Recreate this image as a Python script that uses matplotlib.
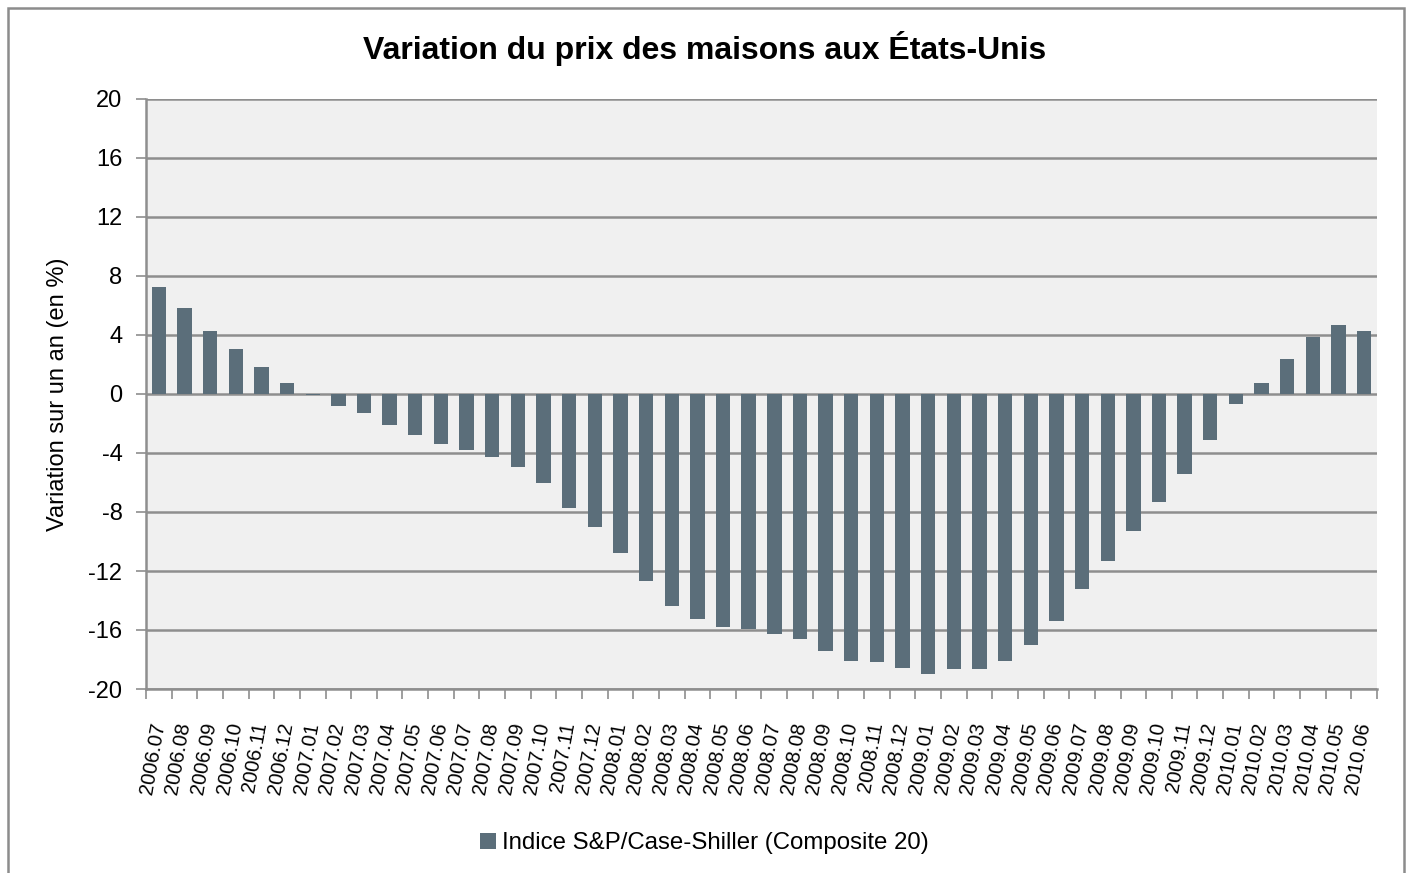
import matplotlib.pyplot as plt
from matplotlib.patches import Rectangle

plt.rcParams['font.family'] = ['Liberation Sans', 'DejaVu Sans']
plt.rcParams['axes.unicode_minus'] = False

# Periods (year.month) and year-on-year change in %
months = ['2006.07', '2006.08', '2006.09', '2006.10', '2006.11', '2006.12',
          '2007.01', '2007.02', '2007.03', '2007.04', '2007.05', '2007.06',
          '2007.07', '2007.08', '2007.09', '2007.10', '2007.11', '2007.12',
          '2008.01', '2008.02', '2008.03', '2008.04', '2008.05', '2008.06',
          '2008.07', '2008.08', '2008.09', '2008.10', '2008.11', '2008.12',
          '2009.01', '2009.02', '2009.03', '2009.04', '2009.05', '2009.06',
          '2009.07', '2009.08', '2009.09', '2009.10', '2009.11', '2009.12',
          '2010.01', '2010.02', '2010.03', '2010.04', '2010.05', '2010.06']
variation = [7.25, 5.8, 4.3, 3.05, 1.85, 0.75,
             -0.1, -0.8, -1.3, -2.1, -2.8, -3.4,
             -3.8, -4.3, -4.95, -6.05, -7.7, -9.05,
             -10.75, -12.7, -14.35, -15.25, -15.8, -15.95,
             -16.3, -16.6, -17.45, -18.1, -18.2, -18.6,
             -19.0, -18.65, -18.65, -18.1, -17.0, -15.4,
             -13.25, -11.3, -9.3, -7.35, -5.45, -3.1,
             -0.7, 0.75, 2.35, 3.85, 4.7, 4.25]

ticks_y = [20, 16, 12, 8, 4, 0, -4, -8, -12, -16, -20]

bar_color = '#5b6e7a'
grid_color = '#8e8e8e'

fig = plt.figure(figsize=(14.09, 8.73), dpi=100)
ax = fig.add_axes([146 / 1409, 1 - 689 / 873, (1377 - 146) / 1409, (689 - 99) / 873])
ax.set_facecolor('#f0f0f0')

x = list(range(len(months)))
bars = ax.bar(x, variation, width=0.56, color=bar_color, zorder=3,
              label='Indice S&P/Case-Shiller (Composite 20)')

ax.set_xlim(-0.5, len(months) - 0.5)
ax.set_ylim(-20, 20)
ax.set_yticks(ticks_y)
ax.yaxis.grid(True, color=grid_color, linewidth=1.8, zorder=1)
ax.tick_params(axis='y', length=7, width=1.2, color=grid_color, labelsize=17, pad=10)

# category ticks sit between the bars
ax.set_xticks([i - 0.5 for i in range(len(months) + 1)], minor=True)
ax.set_xticks(x)
ax.set_xticklabels(months, rotation=80, ha='right', va='center',
                   rotation_mode='anchor', fontsize=14.5)
ax.tick_params(axis='x', which='major', length=0, pad=24)
ax.tick_params(axis='x', which='minor', length=7, width=1.2, color=grid_color)

for side in ['top', 'right']:
    ax.spines[side].set_visible(False)
ax.spines['left'].set_color(grid_color)
ax.spines['left'].set_linewidth(1.8)
ax.spines['bottom'].set_color(grid_color)
ax.spines['bottom'].set_linewidth(1.8)

ax.set_ylabel('Variation sur un an (en %)', fontsize=17, labelpad=14)
fig.text(0.5, 1 - 48 / 873, 'Variation du prix des maisons aux États-Unis',
         ha='center', va='center', fontsize=23, fontweight='bold')

fig.legend(handles=[bars], loc='center', bbox_to_anchor=(0.5, 1 - 843 / 873),
           frameon=False, fontsize=17.3, handlelength=0.65, handleheight=0.65,
           handletextpad=0.25)

fig.patches.append(Rectangle((8 / 1409, -0.05), (1404 - 8) / 1409, 1.05 - 8 / 873,
                             transform=fig.transFigure, fill=False,
                             edgecolor='#8c8c8c', linewidth=1.8))

fig.savefig('out.png', dpi=100)
